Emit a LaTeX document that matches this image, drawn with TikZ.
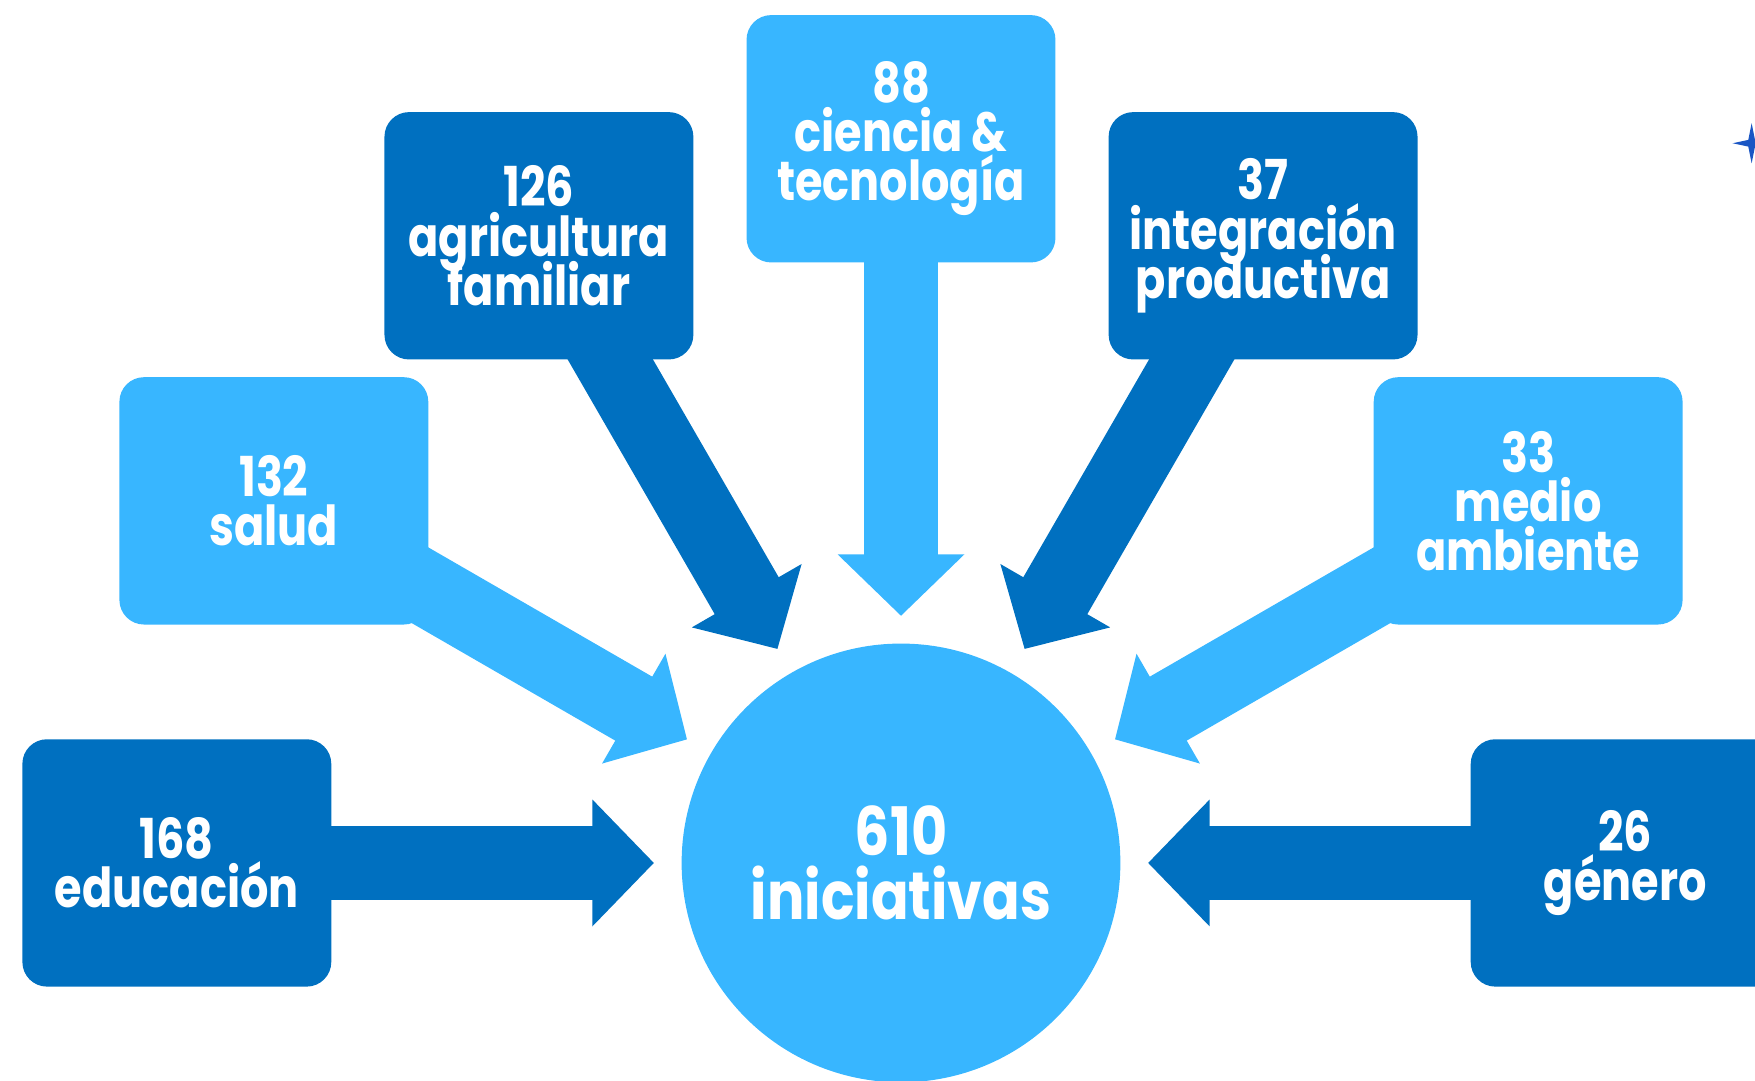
\documentclass[tikz,border=0pt]{standalone}
\usepackage{fontspec}
\newfontfamily\boxfont[FakeStretch=0.81]{Poppins}
\newfontfamily\hubfont[FakeStretch=0.83]{Poppins}
\usetikzlibrary{arrows.meta,backgrounds,calc}

\definecolor{lightblue}{HTML}{38B6FF}
\definecolor{darkblue}{HTML}{0070C0}
\definecolor{starblue}{HTML}{1A56C4}
\newcommand\apretado{\lineskiplimit=-20pt\relax\lineskip=0pt\relax}

\tikzset{
  tema/.style={rectangle, rounded corners=0.22cm, minimum width=2.76cm,
    minimum height=2.21cm, inner sep=0pt, align=center, text=white,
    font=\boxfont\bfseries\fontsize{14}{12.5}\selectfont\apretado},
  flecha/.style={line width=6.6mm, shorten >=2.4mm,
    -{Triangle[length=5.5mm 0 0, width=11mm 0 0]}},
}

\begin{document}
\begin{tikzpicture}
      \useasboundingbox (-8.05,-1.94) rectangle (7.63,7.71);
      \node [circle, fill=lightblue, minimum size=3.92cm, inner sep=0pt,
             align=center, text=white,
             font=\hubfont\bfseries\fontsize{17}{16.2}\selectfont\apretado]
             (hub) at (0,0) {610\\iniciativas};
      \node [tema, fill=darkblue]  (edu) at (180:6.47) {168\\educación};
      \node [tema, fill=lightblue] (sal) at (150:6.47) {132\\salud};
      \node [tema, fill=darkblue]  (agr) at (120:6.47) {126\\agricultura\\familiar};
      \node [tema, fill=lightblue] (cie) at (90:6.47)  {88\\ciencia \&\\tecnología};
      \node [tema, fill=darkblue]  (int) at (60:6.47)  {37\\integración\\productiva};
      \node [tema, fill=lightblue] (med) at (30:6.47)  {33\\medio\\ambiente};
      \node [tema, fill=darkblue]  (gen) at (0:6.47)   {26\\género};
      \begin{scope}[on background layer]
         \draw [flecha, darkblue]  (edu.center) -- (hub);
         \draw [flecha, lightblue] (sal.center) -- (hub);
         \draw [flecha, darkblue]  (agr.center) -- (hub);
         \draw [flecha, lightblue] (cie.center) -- (hub);
         \draw [flecha, darkblue]  (int.center) -- (hub);
         \draw [flecha, lightblue] (med.center) -- (hub);
         \draw [flecha, darkblue]  (gen.center) -- (hub);
      \end{scope}
      % destello
      \fill [starblue] (7.60,6.43) +(0,0.18) -- +(0.03,0.03) -- +(0.17,0)
            -- +(0.03,-0.03) -- +(0,-0.18) -- +(-0.03,-0.03) -- +(-0.17,0)
            -- +(-0.03,0.03) -- cycle;
\end{tikzpicture}
\end{document}
